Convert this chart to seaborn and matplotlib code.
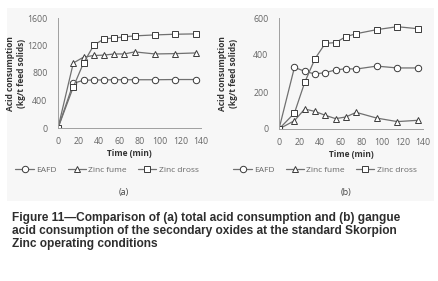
import matplotlib
matplotlib.use("Agg")
import matplotlib.pyplot as plt
import seaborn as sns
import pandas as pd
from matplotlib.patches import Rectangle

sns.set_theme(style="white")
plt.rcParams['font.family'] = ['Open Sans', 'DejaVu Sans']

time_min = [0, 15, 25, 35, 45, 55, 65, 75, 95, 115, 135]
series_names = ["EAFD", "Zinc fume", "Zinc dross"]

# (a) total acid consumption
total_eafd = [0, 650, 694, 699, 699, 702, 702, 702, 702, 705, 705]
total_fume = [0, 946, 1030, 1055, 1060, 1077, 1077, 1107, 1077, 1082, 1092]
total_dross = [0, 597, 946, 1203, 1296, 1310, 1325, 1340, 1354, 1364, 1369]

# (b) gangue acid consumption
gangue_eafd = [0, 333, 312, 297, 305, 319, 326, 324, 340, 330, 330]
gangue_fume = [0, 45, 108, 95, 74, 56, 65, 90, 59, 40, 47]
gangue_dross = [0, 86, 252, 380, 463, 467, 499, 515, 537, 553, 542]

yticks_a = [0, 400, 800, 1200, 1600]
yticks_b = [0, 200, 400, 600]
xticks = [0, 20, 40, 60, 80, 100, 120, 140]

caption = ("Figure 11\u2014Comparison of (a) total acid consumption and (b) gangue\n"
           "acid consumption of the secondary oxides at the standard Skorpion\n"
           "Zinc operating conditions")

markers = {"EAFD": "o", "Zinc fume": "^", "Zinc dross": "s"}
line_col = "#707070"
txt_col = "#666666"

fig = plt.figure(figsize=(4.38, 2.81), dpi=100)
fig.patch.set_facecolor("white")
bg = Rectangle((7/438, 1-201/281), 427/438, 193/281,
               transform=fig.transFigure, facecolor="#f7f7f7",
               edgecolor="none", zorder=-10)
fig.patches.append(bg)

ax_a = fig.add_axes([58/438, 1-128/281, 143/438, 110/281])
ax_b = fig.add_axes([279/438, 1-129/281, 144/438, 111/281])

def draw(ax, vals, yticks, ymax, label_x, legend_x, sub):
    df = pd.DataFrame({"Time": time_min * 3,
                       "Value": vals[0] + vals[1] + vals[2],
                       "Series": sum([[n] * len(time_min) for n in series_names], [])})
    for name in series_names:
        sub_df = df[df["Series"] == name]
        sns.lineplot(data=sub_df, x="Time", y="Value", ax=ax, color=line_col,
                     marker=markers[name], markersize=4.6 if name != "Zinc fume" else 5.0,
                     markerfacecolor="white", markeredgecolor="#3a3a3a",
                     markeredgewidth=0.7, linewidth=0.9, label=name)
    ax.set_facecolor("none")
    ax.set_xlim(0, 140)
    ax.set_ylim(0, ymax)
    ax.set_xticks(xticks)
    ax.set_yticks(yticks)
    ax.tick_params(axis="both", labelsize=6.3, colors="#999999", labelcolor=txt_col,
                   length=2.5, width=0.6, pad=2, direction="out")
    ax.tick_params(axis="x", pad=4)
    ax.tick_params(axis="y", pad=5)
    for s in ["top", "right"]:
        ax.spines[s].set_visible(False)
    for s in ["left", "bottom"]:
        ax.spines[s].set_color("#a0a0a0")
        ax.spines[s].set_linewidth(0.7)
    ax.set_xlabel("Time (min)", fontsize=6, fontweight="bold", color="#333333", labelpad=2)
    ax.set_ylabel("")
    if ax.get_legend():
        ax.get_legend().remove()
    fig.text(label_x, (1-18/281 + 1-129/281)/2, "Acid consumption\n(kg/t feed solids)",
             rotation=90, ha="center", va="center", fontsize=6, fontweight="bold",
             color="#333333", linespacing=1.15)
    h, l = ax.get_legend_handles_labels()
    fig.legend(h, l, loc="center", bbox_to_anchor=(legend_x, 1-170/281), ncol=3,
               frameon=False, fontsize=6, handlelength=2.2, handletextpad=0.3,
               columnspacing=1.3, labelcolor=txt_col)
    fig.text((ax.get_position().x0 + ax.get_position().x1) / 2 - 0.012, 1-192/281, sub,
             ha="center", va="center", fontsize=6.5, color="#444444")

draw(ax_a, [total_eafd, total_fume, total_dross], yticks_a, 1600, 16/438, 107/438, "(a)")
draw(ax_b, [gangue_eafd, gangue_fume, gangue_dross], yticks_b, 600, 228/438, 325/438, "(b)")

fig.text(12/438, 1-212/281, caption, ha="left", va="top", fontsize=8.6, fontweight="bold",
         family=["Liberation Sans", "DejaVu Sans"], color="#2e2e2e", linespacing=1.13)

fig.savefig("out.png", dpi=100)
